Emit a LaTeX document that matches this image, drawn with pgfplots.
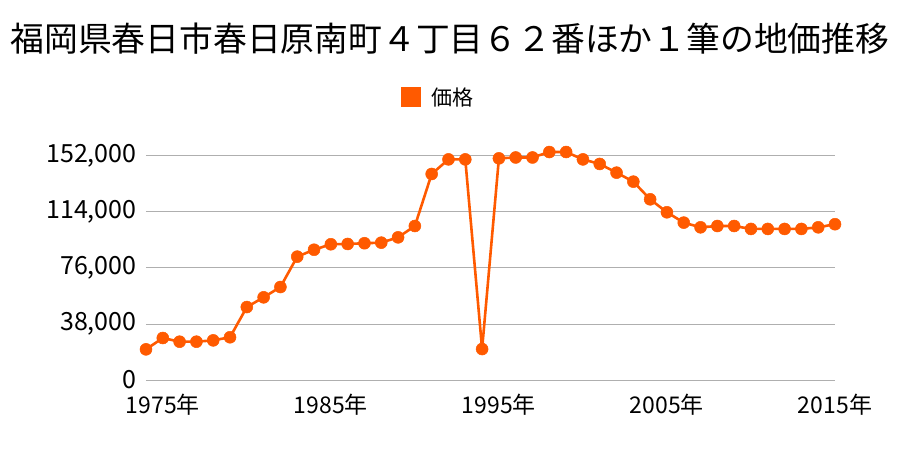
\documentclass[border=0pt]{standalone}
\usepackage{pgfplots}
\pgfplotsset{compat=1.18}
\usepackage{fontspec}
\setmainfont{Noto Sans CJK JP}
\definecolor{lineor}{RGB}{255,90,0}
\definecolor{gridgray}{RGB}{175,175,175}
\begin{document}
\begin{tikzpicture}
\path[use as bounding box] (-146bp,-70bp) rectangle (754bp,380bp);
\begin{axis}[
  at={(0,0)}, anchor=south west,
  scale only axis, width=689bp, height=224bp,
  xmin=1974, xmax=2015, ymin=0, ymax=152000,
  axis line style={draw=none},
  major tick length=0pt,
  ymajorgrids, grid style={gridgray, line width=1bp},
  clip=false,
  scaled y ticks=false,
  xtick={1975,1985,1995,2005,2015},
  xticklabels={1975年,1985年,1995年,2005年,2015年},
  ytick={0,38000,76000,114000,152000},
  yticklabels={{0},{38,000},{76,000},{114,000},{152,000}},
  /pgf/number format/assume math mode=true,
  xticklabel style={font=\fontsize{23bp}{26bp}\selectfont, yshift=-11bp},
  yticklabel style={font=\fontsize{25bp}{28bp}\selectfont, xshift=-6bp},
  legend style={at={(0.424,1.263)}, anchor=center, draw=none, fill=none,
    font=\fontsize{21bp}{24bp}\selectfont},
  legend image code/.code={\fill[lineor, draw=none] (0bp,-10bp) rectangle (20bp,10bp);\path[draw=none, fill=none] (0bp,0bp) -- (28bp,0bp);},
]
\addplot[lineor, line width=2.6bp, mark=*, mark size=6bp, mark options={fill=lineor, draw=lineor, line width=0.5bp}]
coordinates {
(1974,20800) (1975,28500) (1976,26000) (1977,26000) (1978,26900) (1979,29000)
(1980,49500) (1981,56100) (1982,63100) (1983,83700) (1984,88400) (1985,92100)
(1986,92300) (1987,92800) (1988,93200) (1989,96800) (1990,104500) (1991,139800)
(1992,149700) (1993,149700) (1994,21000) (1995,150400) (1996,151000) (1997,151000)
(1998,154700) (1999,154700) (2000,149700) (2001,146600) (2002,140700) (2003,134600)
(2004,122600) (2005,113800) (2006,106800) (2007,103600) (2008,104500) (2009,104500)
(2010,102500) (2011,102500) (2012,102500) (2013,102500) (2014,103600) (2015,105700)
};
\addlegendentry{価格}
\end{axis}
\node[font=\fontsize{33.8bp}{38bp}\selectfont] at (304bp,341bp) {福岡県春日市春日原南町４丁目６２番ほか１筆の地価推移};
\end{tikzpicture}
\end{document}
